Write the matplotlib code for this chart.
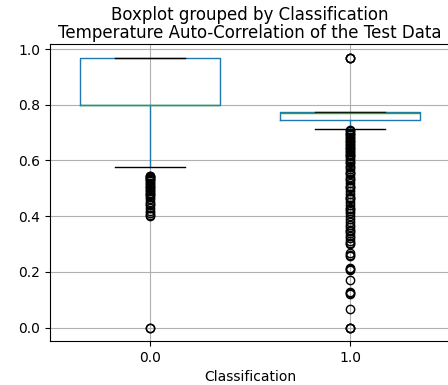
import matplotlib
matplotlib.use("Agg")
import matplotlib.pyplot as plt

# classes and box statistics
classes = ["0.0", "1.0"]
q1 = [0.800, 0.747]
med = [0.800, 0.772]
q3 = [0.970, 0.774]
whislo = [0.575, 0.713]
whishi = [0.970, 0.774]

fliers_0 = [0.545, 0.543, 0.54, 0.537, 0.535, 0.53, 0.525, 0.52, 0.515, 0.51,
            0.505, 0.50, 0.495, 0.49, 0.485, 0.48, 0.475, 0.47, 0.46, 0.45,
            0.445, 0.44, 0.43, 0.42, 0.41, 0.405, 0.40, 0.0, 0.0]
fliers_1 = [0.97, 0.97, 0.97,
            0.708, 0.705, 0.70, 0.695, 0.69, 0.685, 0.68, 0.675, 0.67, 0.665,
            0.66, 0.655, 0.65, 0.645, 0.64, 0.635, 0.63, 0.625, 0.62, 0.615,
            0.61, 0.60, 0.595, 0.59, 0.58, 0.575, 0.57, 0.56, 0.555, 0.55,
            0.54, 0.535, 0.53, 0.52, 0.51, 0.505, 0.50, 0.49, 0.48, 0.47,
            0.465, 0.46, 0.45, 0.44, 0.43, 0.425, 0.42, 0.41, 0.40, 0.39,
            0.38, 0.37, 0.36, 0.35, 0.345, 0.34, 0.33, 0.32, 0.31, 0.305,
            0.30, 0.267, 0.262, 0.258, 0.213, 0.21, 0.207, 0.17, 0.128,
            0.125, 0.122, 0.068, 0.0, 0.0, 0.0]
fliers = [fliers_0, fliers_1]

stats = []
for i in range(len(classes)):
    stats.append(dict(q1=q1[i], med=med[i], q3=q3[i], whislo=whislo[i],
                      whishi=whishi[i], fliers=fliers[i], label=classes[i]))

fig = plt.figure(figsize=(4.48, 3.85), dpi=100)
ax = fig.add_axes([50 / 448, 44 / 385, 400 / 448, 297 / 385])

ax.bxp(stats, widths=0.7,
       boxprops=dict(color="C0"),
       whiskerprops=dict(color="C0"),
       medianprops=dict(color="C2"),
       capprops=dict(color="k"),
       flierprops=dict(marker="o", markeredgecolor="k", markerfacecolor="none"))

ax.set_xlim(0.5, 2.5)
ax.set_ylim(-0.0485, 1.0185)
ax.grid(True)
ax.set_xlabel("Classification")
ax.set_title("Temperature Auto-Correlation of the Test Data", fontsize=12, pad=4)
fig.suptitle("Boxplot grouped by Classification", fontsize=12,
             x=250 / 448, y=1 - 15 / 385, va="center")

fig.savefig("out.png", dpi=100)
